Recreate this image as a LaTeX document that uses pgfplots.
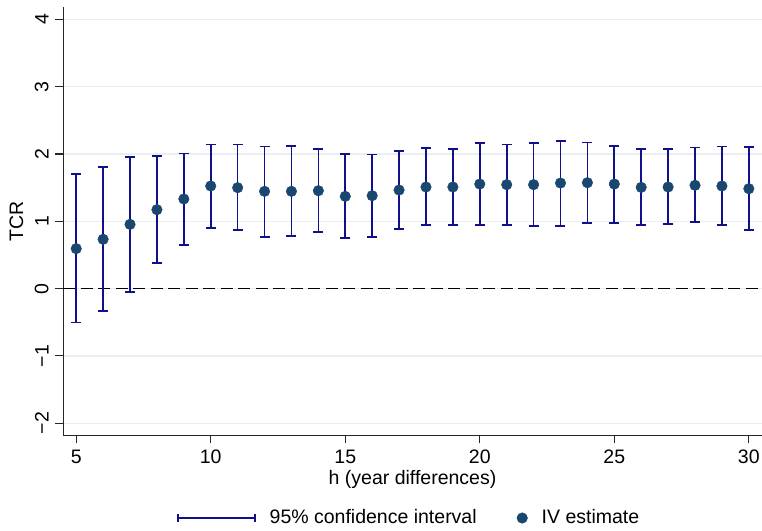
\documentclass[border=0pt]{standalone}
\usepackage{pgfplots}
\pgfplotsset{compat=1.18}
\usepackage{pgfplotstable}
\usepackage{fontspec}
\setmainfont{Liberation Sans}
\definecolor{cinavy}{RGB}{16,16,140}
\definecolor{ptnavy}{RGB}{26,71,111}
\definecolor{gridc}{RGB}{232,239,242}
\pgfplotstableread{
h est lo hi
5 0.594 -0.505 1.700
6 0.733 -0.337 1.807
7 0.955 -0.054 1.955
8 1.173 0.376 1.975
9 1.332 0.653 2.010
10 1.525 0.901 2.144
11 1.500 0.866 2.144
12 1.446 0.767 2.114
13 1.446 0.777 2.124
14 1.455 0.842 2.074
15 1.371 0.752 2.005
16 1.381 0.767 1.995
17 1.465 0.886 2.045
18 1.510 0.946 2.089
19 1.510 0.946 2.074
20 1.554 0.946 2.163
21 1.545 0.946 2.144
22 1.545 0.926 2.163
23 1.569 0.926 2.193
24 1.574 0.970 2.173
25 1.554 0.980 2.124
26 1.505 0.946 2.074
27 1.510 0.960 2.074
28 1.535 0.990 2.099
29 1.525 0.946 2.114
30 1.485 0.876 2.104
}\datatable
\begin{document}
\fontsize{19.5bp}{23bp}\selectfont
\begin{tikzpicture}[x=1bp,y=1bp]
\path[use as bounding box] (-63.3,-95.7) rectangle (698.7,435.3);
\begin{axis}[
  at={(0,0)}, anchor=south west,
  scale only axis,
  width=698.7bp, height=428.6bp,
  xmin=4.52, xmax=30.49,
  ymin=-2.18, ymax=4.19,
  axis x line*=bottom, axis y line*=left,
  axis line style={-, line width=1.1bp, black!85},
  xtick={5,10,...,30}, ytick={-2,-1,...,4},
  xticklabels={5,10,15,20,25,30},
  yticklabels={−2,−1,0,1,2,3,4},
  tick align=outside,
  major tick length=8bp,
  every tick/.style={line width=1.1bp, black!85},
  ymajorgrids,
  grid style={line width=1.3bp, gridc},
  ticklabel style={font=\fontsize{19.5bp}{23bp}\selectfont},
  yticklabel style={rotate=90, anchor=south},
  xlabel={h (year differences)},
  ylabel={TCR},
  xlabel style={at={(axis description cs:0.4998,-0.103)}, anchor=center},
  ylabel style={at={(axis description cs:-0.067,0.5)}, anchor=center},
  legend columns=2,
  legend style={draw=none, fill=none, at={(axis description cs:0.495,-0.193)}, anchor=center,
    font=\fontsize{19.5bp}{23bp}\selectfont,
    /tikz/every odd column/.append style={column sep=12bp},
    /tikz/every even column/.append style={column sep=38bp},
    cells={anchor=west}, inner sep=0pt},
]
\addplot[black, line width=1.3bp, dash pattern=on 12bp off 5.5bp, forget plot] coordinates {(4.52,0) (30.49,0)};
\addplot[forget plot, only marks, mark=*, mark size=0pt, cinavy,
  error bars/.cd, y dir=both, y explicit,
  error mark=|,
  error bar style={line width=1.7bp, cinavy},
  error mark options={mark size=5bp, line width=1.7bp, cinavy}]
  table[x=h, y=est, y error plus expr=\thisrow{hi}-\thisrow{est}, y error minus expr=\thisrow{est}-\thisrow{lo}] {\datatable};
\addplot[forget plot, only marks, mark=*, mark size=5.3bp, ptnavy, mark options={fill=ptnavy, draw=ptnavy}]
  table[x=h, y=est] {\datatable};
\addlegendimage{legend image code/.code={
  \draw[cinavy, line width=1.6bp] (0bp,0bp) -- (77bp,0bp);
  \draw[cinavy, line width=1.6bp] (0bp,-4bp) -- (0bp,4bp);
  \draw[cinavy, line width=1.6bp] (77bp,-4bp) -- (77bp,4bp);}}
\addlegendentry{95\% confidence interval}
\addlegendimage{legend image code/.code={
  \fill[ptnavy] (0bp,0bp) circle (5.3bp);}}
\addlegendentry{IV estimate}
\end{axis}
\end{tikzpicture}
\end{document}
